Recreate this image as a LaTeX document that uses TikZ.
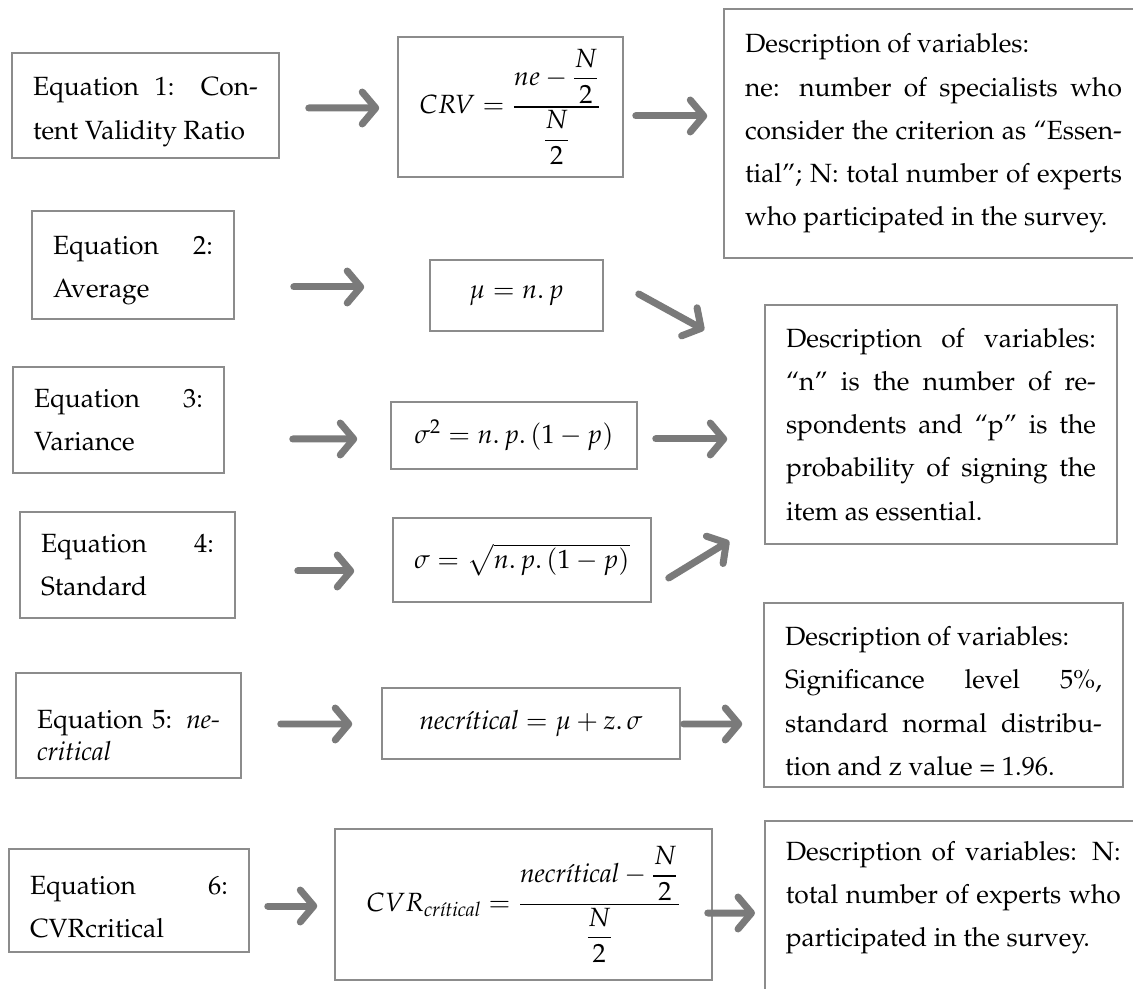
\documentclass[tikz,border=0pt]{standalone}
\usepackage[T1]{fontenc}
\usepackage{amsmath}
\usepackage{mathpazo}
\usetikzlibrary{arrows.meta, positioning}
\definecolor{boxgray}{RGB}{140,140,140}
\definecolor{arrowgray}{RGB}{122,122,122}

\begin{document}
\begin{tikzpicture} [x=0.02cm, y=-0.02cm,
    font=\fontsize{15}{24.6}\selectfont,
    box/.style={draw=boxgray, line width=0.9pt, inner xsep=0.42cm, inner ysep=0pt, align=justify},
    mathbox/.style={draw=boxgray, line width=0.9pt, inner sep=0pt},
    arr/.style={draw=arrowgray, line width=0.14cm, line cap=round,
        -{Straight Barb[length=0.27cm, width=0.64cm, round]}}]

\useasboundingbox (0,0) rectangle (1133,989);
\clip (0,0) rectangle (1133,989);

% equation names
\node (eq1) [box, text width=4.5cm, text height=18pt, minimum height=2.1cm] at (145.5,105.5)
    {Equation 1: Con-\linebreak tent Validity Ratio};
\node (eq2) [box, text width=3.2cm, text height=17pt, minimum height=2.16cm] at (133,265)
    {Equation 2:\linebreak Average};
\node (eq3) [box, text width=3.38cm, minimum height=2.12cm] at (118.5,420)
    {Equation 3:\linebreak Variance};
\node (eq4) [box, text width=3.46cm, minimum height=2.12cm] at (127.5,565)
    {Equation 4:\linebreak Standard};
\node (eq5) [box, text width=3.66cm, text height=22pt, minimum height=2.1cm,
    font=\fontsize{15}{18.1}\selectfont] at (128.5,725.5)
    {Equation 5: \textit{ne-}\linebreak\textit{critical}};
\node (eq6) [box, text width=3.96cm, text height=18pt, minimum height=2.06cm] at (129,900.5)
    {Equation 6:\linebreak CVRcritical};

% formulas
\node (crv) [mathbox, minimum width=4.5cm, minimum height=2.8cm] at (510.5,107)
    {$CRV = \dfrac{ne-\dfrac{N}{2}}{\dfrac{N}{2}}$};
\node (mu) [mathbox, minimum width=3.46cm, minimum height=1.42cm] at (516.5,295.5)
    {$\mu = n.\,p$};
\node (sig2) [mathbox, minimum width=4.92cm, minimum height=1.34cm] at (514,435.5)
    {$\sigma^2 = n.\,p.\,(1-p)$};
\node (sigma) [mathbox, minimum width=5.16cm, minimum height=1.68cm] at (522,560)
    {$\sigma = \sqrt{n.\,p.\,(1-p)}$};
\node (necrit) [mathbox, minimum width=5.96cm, minimum height=1.42cm] at (531,723.5)
    {$\textit{necr\'{\i}tical} = \mu + z.\,\sigma$};
\node (cvrcrit) [mathbox, minimum width=7.54cm, minimum height=3.02cm] at (523.5,904.5)
    {$CVR_{\textit{cr\'{\i}tical}} = \dfrac{\textit{necr\'{\i}tical}-\dfrac{N}{2}}{\dfrac{N}{2}}$};

% descriptions
\node (desc1) [box, text width=7.54cm, minimum height=4.98cm] at (933.5,133.5)
    {Description of variables:\\ ne: number of specialists who\linebreak
     consider the criterion as ``Essen-\linebreak tial''; N: total number of experts\linebreak
     who participated in the survey.};
\node (desc2) [box, text width=6.2cm, minimum height=4.78cm] at (941,424.5)
    {Description of variables:\linebreak ``n'' is the number of re-\linebreak
     spondents and ``p'' is the\linebreak probability of signing the\linebreak
     item as essential.};
\node (desc3) [box, text width=6.34cm, text height=18pt, minimum height=3.68cm] at (943.5,695)
    {Description of variables:\\ Significance level 5\%,\linebreak
     standard normal distribu-\linebreak tion and z value = 1.96.};
\node (desc4) [box, text width=6.7cm, inner ysep=0.41cm, text depth=4cm,
    anchor=north west] at (764,820)
    {Description of variables: N:\linebreak total number of experts who\linebreak
     participated in the survey.};

% arrows
\draw [arr] ([shift={(29,2.5)}]eq1.east) -- ([shift={(-18,1)}]crv.west);
\draw [arr] ([shift={(12,9)}]crv.east) -- ([shift={(-16,-17.5)}]desc1.west);
\draw [arr] ([shift={(59,22)}]eq2.east) -- ([shift={(-65,-8.5)}]mu.west);
\draw [arr] ([shift={(35,-1.5)}]mu.east) -- ([shift={(-60,-94.5)}]desc2.west);
\draw [arr] ([shift={(68,19)}]eq3.east) -- ([shift={(-33,3.5)}]sig2.west);
\draw [arr] ([shift={(18,3.5)}]sig2.east) -- ([shift={(-37,14.5)}]desc2.west);
\draw [arr] ([shift={(62,6)}]eq4.east) -- ([shift={(-38,11)}]sigma.west);
\draw [arr] ([shift={(17,18)}]sigma.east) -- ([shift={(-35,116.5)}]desc2.west);
\draw [arr] ([shift={(39,-1.5)}]eq5.east) -- ([shift={(-29,0.5)}]necrit.west);
\draw [arr] ([shift={(3,0.5)}]necrit.east) -- ([shift={(-21,29)}]desc3.west);
\draw [arr] ([shift={(18,5.5)}]eq6.east) -- ([shift={(-17,1.5)}]cvrcrit.west);
\draw [arr] ([shift={(-5,8.5)}]cvrcrit.east) -- ([shift={(-9,93)}]desc4.north west);
\end{tikzpicture}
\end{document}
